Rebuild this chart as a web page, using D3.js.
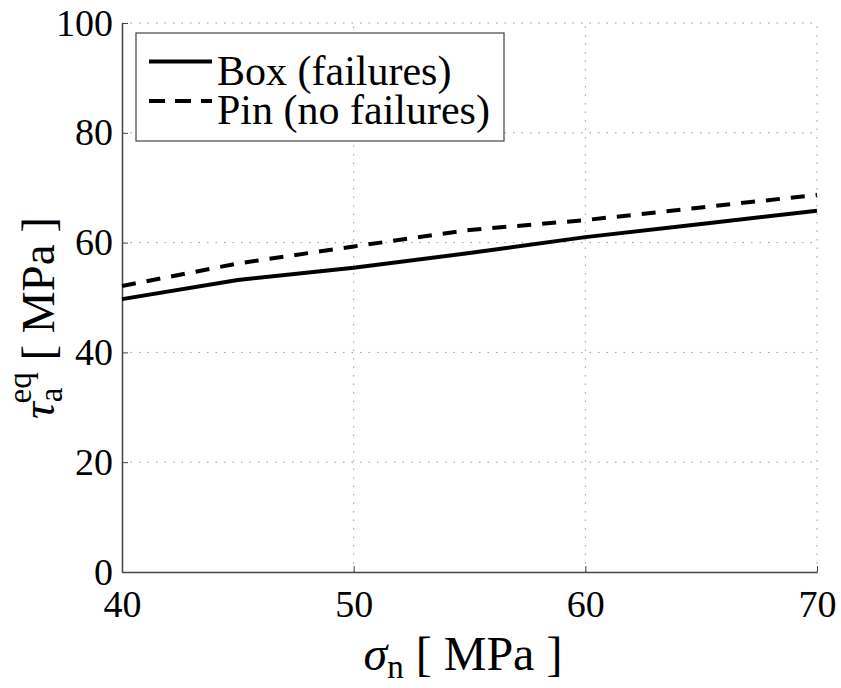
<!DOCTYPE html>
<html><head><meta charset="utf-8"><script src="https://cdn.jsdelivr.net/npm/d3@7"></script></head>
<body style="margin:0">
<svg id="chart" width="841" height="688" style="font-family: 'Times New Roman', 'Liberation Serif', Tinos, serif"></svg>
<script>
// valores
const sigmaN = [40, 45, 50, 55, 60, 65, 70];
const boxFailures = [49.7, 53.2, 55.4, 58.1, 61.0, 63.4, 65.8];
const pinNoFailures = [52.1, 56.2, 59.3, 62.3, 64.1, 66.4, 68.7];
const xTicks = [40, 50, 60, 70];
const yTicks = [0, 20, 40, 60, 80, 100];
const series = [
  { nombre: "Box (failures)", valores: boxFailures, dash: null },
  { nombre: "Pin (no failures)", valores: pinNoFailures, dash: "14,11" },
];

const svg = d3.select("#chart");
const margin = { left: 122, right: 24, top: 23, bottom: 116 };
const width = +svg.attr("width"), height = +svg.attr("height");

const x = d3.scaleLinear().domain([40, 70]).range([margin.left, width - margin.right]);
const y = d3.scaleLinear().domain([0, 100]).range([height - margin.bottom, margin.top]);

// rejilla punteada
const grid = svg.append("g").attr("stroke", "#999").attr("stroke-width", 1).attr("stroke-dasharray", "1.5,7");
grid.selectAll(".gx").data(xTicks.slice(1)).enter().append("line")
  .attr("x1", d => x(d)).attr("x2", d => x(d))
  .attr("y1", y(0)).attr("y2", y(100));
grid.selectAll(".gy").data(yTicks.slice(1)).enter().append("line")
  .attr("x1", x(40)).attr("x2", x(70))
  .attr("y1", d => y(d)).attr("y2", d => y(d));

// ejes
const xAxis = svg.append("g")
  .attr("transform", `translate(0,${y(0)})`)
  .call(d3.axisBottom(x).tickValues(xTicks).tickSizeInner(-6).tickSizeOuter(0).tickPadding(18));
const yAxis = svg.append("g")
  .attr("transform", `translate(${x(40)},0)`)
  .call(d3.axisLeft(y).tickValues(yTicks).tickSizeInner(-6).tickSizeOuter(0).tickPadding(9));
[xAxis, yAxis].forEach(a => {
  a.attr("font-family", null).attr("font-size", null);
  a.select(".domain").attr("stroke", "#444").attr("stroke-width", 1.5);
  a.selectAll(".tick line").attr("stroke", "#444");
  a.selectAll("text").attr("fill", "#000").attr("font-size", 38);
});
xAxis.selectAll("text").attr("dy", "0.71em");

// lineas
const linea = d3.line().x((d, i) => x(sigmaN[i])).y(d => y(d));
series.forEach(s => {
  svg.append("path")
    .datum(s.valores)
    .attr("d", linea)
    .attr("fill", "none")
    .attr("stroke", "#000")
    .attr("stroke-width", 4)
    .attr("stroke-dasharray", s.dash);
});

// leyenda
const leg = svg.append("g");
leg.append("rect")
  .attr("x", 136).attr("y", 33).attr("width", 368).attr("height", 108)
  .attr("fill", "#fff").attr("stroke", "#444").attr("stroke-width", 1.2);
series.forEach((s, i) => {
  const yy = 61.5 + i * 39.5;
  leg.append("line")
    .attr("x1", 149).attr("x2", 212).attr("y1", yy).attr("y2", yy)
    .attr("stroke", "#000").attr("stroke-width", 4)
    .attr("stroke-dasharray", s.dash ? "16,10" : null);
  leg.append("text").attr("x", 217).attr("y", yy + 23)
    .attr("font-size", 42).text(s.nombre);
});

// titulos de ejes
const xl = svg.append("text").attr("x", 463).attr("y", 670)
  .attr("text-anchor", "middle").attr("font-size", 48);
xl.append("tspan").attr("font-style", "italic").text("σ");
xl.append("tspan").attr("font-size", 33).attr("dy", 8).text("n");
xl.append("tspan").attr("dy", -8).text(" [ MPa ]");

const yl = svg.append("text")
  .attr("transform", `translate(54,318) rotate(-90)`)
  .attr("text-anchor", "middle").attr("font-size", 47);
yl.append("tspan").attr("font-style", "italic").text("τ");
yl.append("tspan").attr("font-size", 33).attr("dy", 8).text("a");
yl.append("tspan").attr("font-size", 33).attr("dy", -31).attr("dx", -16).text("eq");
yl.append("tspan").attr("dy", 23).text(" [ MPa ]");
</script>
</body>
</html>
